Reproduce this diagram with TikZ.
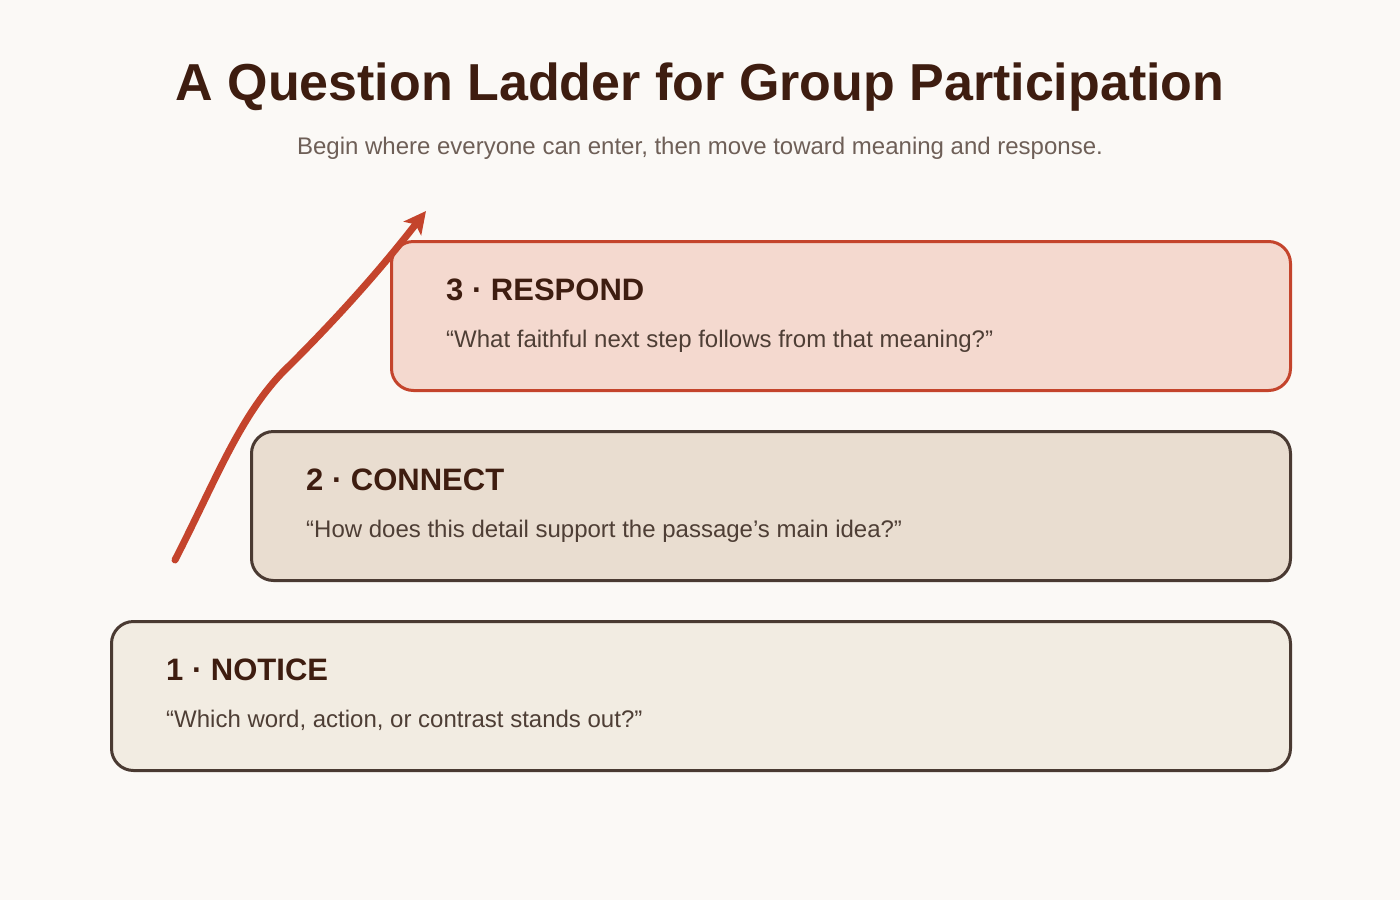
\documentclass[tikz,border=0pt]{standalone}
\usepackage{fontspec}
\setmainfont{Liberation Sans}
\usetikzlibrary{arrows.meta}
\definecolor{bg}{HTML}{FBF9F6}
\definecolor{titlec}{HTML}{3E1D10}
\definecolor{subc}{HTML}{6E5F57}
\definecolor{quotec}{HTML}{4E3E35}
\definecolor{boxline}{HTML}{4A3A32}
\definecolor{redc}{HTML}{C4442C}
\definecolor{fillone}{HTML}{F2ECE2}
\definecolor{filltwo}{HTML}{E9DDD0}
\definecolor{fillthree}{HTML}{F4D9CF}
\tikzset{
  stepbox/.style={draw=boxline, line width=3pt, rounded corners=22pt, minimum height=149pt, anchor=north west, inner sep=0pt},
  heading/.style={anchor=base west, text=titlec, font=\bfseries\fontsize{31}{36}\selectfont, inner sep=0pt},
  quote/.style={anchor=base west, text=quotec, font=\fontsize{24}{28}\selectfont, inner sep=0pt},
}
\begin{document}
\begin{tikzpicture}[x=1pt,y=-1pt]
\fill[bg] (0,0) rectangle (1400,900);
\useasboundingbox (0,0) rectangle (1400,900);
\node[anchor=base, text=titlec, font=\bfseries\fontsize{52}{60}\selectfont, inner sep=0pt] (title) at (700,100) {A Question Ladder for Group Participation};
\node[anchor=base, text=subc, font=\fontsize{24}{28}\selectfont, inner sep=0pt] (sub) at (700,154) {Begin where everyone can enter, then move toward meaning and response.};
% boxes
\node[stepbox, fill=fillone, minimum width=1179pt] (b1) at (110,620) {};
\node[stepbox, fill=filltwo, minimum width=1039pt] (b2) at (250,430) {};
\node[stepbox, fill=fillthree, draw=redc, minimum width=899pt] (b3) at (390,240) {};
\node[heading] (h1) at (166,680) {1 · NOTICE};
\node[quote] (q1) at (166,727) {“Which word, action, or contrast stands out?”};
\node[heading] (h2) at (306,490) {2 · CONNECT};
\node[quote] (q2) at (306,537) {“How does this detail support the passage’s main idea?”};
\node[heading] (h3) at (446,300) {3 · RESPOND};
\node[quote] (q3) at (446,347) {“What faithful next step follows from that meaning?”};
% arrow
\coordinate (as) at (175,560);
\coordinate (ae) at (426,211);
\draw[redc, line width=7pt, line cap=round, -{Stealth[length=22pt,width=22pt,inset=5pt]}]
  (as) .. controls (217,478) and (242,410) .. (290,365) .. controls (340,315) and (380,270) .. (ae);
\end{tikzpicture}
\end{document}
